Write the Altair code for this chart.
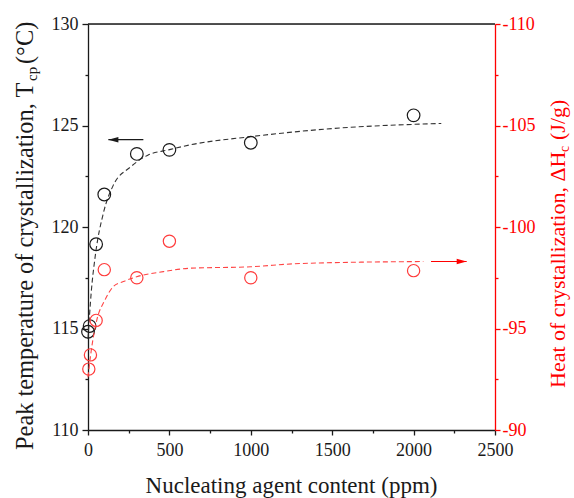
import altair as alt
import pandas as pd

# ---------------- data ----------------
t_content = [0, 10, 50, 100, 300, 500, 1000, 2000]
t_cp = [114.84, 115.12, 119.15, 121.6, 123.6, 123.8, 124.15, 125.5]

h_content = [5, 15, 50, 100, 300, 500, 1000, 2000]
h_c = [-93.0, -93.7, -95.4, -97.9, -97.5, -99.3, -97.5, -97.85]

t_fit_x = [0, 20, 45, 95, 155, 260, 370, 495, 630, 1000, 1500, 2170]
t_fit_y = [114.5, 116.8, 118.6, 120.7, 122.05, 122.95, 123.55, 123.8, 124.05, 124.45, 124.85, 125.1]

h_fit_x = [0, 17, 53, 104, 155, 217, 299, 463, 627, 1000, 1300, 2060]
h_fit_y = [-92.6, -93.74, -95.38, -96.4, -97.06, -97.31, -97.55, -97.8, -97.97, -98.04, -98.2, -98.3]

t_arrow_x = [340, 125]
t_arrow_y = [124.3]
h_arrow_x = [2107, 2326]
h_arrow_y = [-98.3]

x_ticks = [0, 250, 500, 750, 1000, 1250, 1500, 1750, 2000, 2250, 2500]
t_ticks = [110, 112.5, 115, 117.5, 120, 122.5, 125, 127.5, 130]
h_ticks = [-110, -107.5, -105, -102.5, -100, -97.5, -95, -92.5, -90]

x_title = "Nucleating agent content (ppm)"
t_title = ["Peak temperature of crystallization, T", "cp", "(°C)"]
h_title = ["Heat of crystallization, \u0394H", "c", "(J/g)"]

# ---------------- styling ----------------
W, H = 407, 406
FONT = "Liberation Serif"
BLACK = "#1a1a1a"
RED = "#ff0000"
RED_PT = "#ff3b3b"

pts = pd.DataFrame({"x": t_content, "T": t_cp})
hpts = pd.DataFrame({"x": h_content, "Hc": h_c})
tfit = pd.DataFrame({"x": t_fit_x, "T": t_fit_y})
hfit = pd.DataFrame({"x": h_fit_x, "Hc": h_fit_y})
tarr = pd.DataFrame({"x": [t_arrow_x[0]], "x2": [t_arrow_x[1]], "T": t_arrow_y})
harr = pd.DataFrame({"x": [h_arrow_x[0]], "x2": [h_arrow_x[1]], "Hc": h_arrow_y})
tarr_head = pd.DataFrame({"x": [t_arrow_x[1]], "T": t_arrow_y})
harr_head = pd.DataFrame({"x": [h_arrow_x[1]], "Hc": h_arrow_y})

major_test = lambda step: f"abs(datum.value % {step}) < 1e-9"

x_axis = alt.Axis(
    values=x_ticks,
    labelExpr=f"{major_test(500)} ? '' + datum.value : ''",
    tickSize={"condition": {"test": major_test(500), "value": 5}, "value": 3},
    title=None, grid=False, labelFlush=False, labelOverlap=False,
    labelFont=FONT, labelFontSize=18, labelColor=BLACK, labelPadding=6,
    domainColor=BLACK, tickColor=BLACK, domainWidth=1.3, tickWidth=1.3,
)
t_axis = alt.Axis(
    values=t_ticks, orient="left",
    labelExpr=f"{major_test(5)} ? '' + datum.value : ''",
    tickSize={"condition": {"test": major_test(5), "value": 6}, "value": 3},
    title=None, grid=False, labelOverlap=False,
    labelFont=FONT, labelFontSize=18, labelColor=BLACK, labelPadding=4,
    domainColor=BLACK, tickColor=BLACK, domainWidth=1.3, tickWidth=1.3,
)
h_axis = alt.Axis(
    values=h_ticks, orient="right",
    labelExpr=f"{major_test(5)} ? '' + datum.value : ''",
    tickSize={"condition": {"test": major_test(5), "value": 5}, "value": 3},
    title=None, grid=False, labelOverlap=False,
    labelFont=FONT, labelFontSize=18, labelColor=RED, labelPadding=2,
    domainColor=RED, tickColor=RED, domainWidth=1.3, tickWidth=1.3,
)

X = alt.X("x:Q", scale=alt.Scale(domain=[0, 2500], nice=False, zero=False), axis=x_axis)
TY = alt.Y("T:Q", scale=alt.Scale(domain=[110, 130], nice=False, zero=False), axis=t_axis)
HY = alt.Y("Hc:Q", scale=alt.Scale(domain=[-110, -90], nice=False, zero=False, reverse=True), axis=h_axis)

left_arrow_shape = "M-1,0L1,-0.55L1,0.55Z"
right_arrow_shape = "M1,0L-1,-0.55L-1,0.55Z"

black = alt.layer(
    alt.Chart(tfit).mark_line(color="#333333", strokeDash=[5, 3], strokeWidth=1.1,
                              interpolate="monotone").encode(x=X, y=TY),
    alt.Chart(pts).mark_point(filled=False, color=BLACK, size=160, strokeWidth=1.2,
                              opacity=1).encode(x=X, y=TY),
    alt.Chart(tarr).mark_rule(color=BLACK, strokeWidth=1.2).encode(x=X, x2="x2:Q", y=TY),
    alt.Chart(tarr_head).mark_point(shape=left_arrow_shape, filled=True, color=BLACK,
                                    size=100, xOffset=5, opacity=1, strokeWidth=0).encode(x=X, y=TY),
)

red = alt.layer(
    alt.Chart(hfit).mark_line(color="#ff4444", strokeDash=[5, 3], strokeWidth=1.1,
                              interpolate="monotone").encode(x=X, y=HY),
    alt.Chart(hpts).mark_point(filled=False, color=RED_PT, size=150, strokeWidth=1.2,
                               opacity=1).encode(x=X, y=HY),
    alt.Chart(harr).mark_rule(color=RED, strokeWidth=1.2).encode(x=X, x2="x2:Q", y=HY),
    alt.Chart(harr_head).mark_point(shape=right_arrow_shape, filled=True, color=RED,
                                    size=100, xOffset=-5, opacity=1, strokeWidth=0).encode(x=X, y=HY),
)


def label(text, x, y, size, color=BLACK, angle=0, align="left"):
    df = pd.DataFrame({"label": [text]})
    kw = dict(font=FONT, fontSize=size, color=color, align=align, baseline="alphabetic")
    if angle:
        kw["angle"] = angle
    return alt.Chart(df).mark_text(**kw).encode(
        text="label:N", x=alt.value(x), y=alt.value(y))


top_border = alt.Chart(pd.DataFrame({"a": [0]})).mark_rule(color=BLACK, strokeWidth=1.3).encode(
    x=alt.value(0), x2=alt.value(W), y=alt.value(0))

titles = alt.layer(
    top_border,
    label(x_title, W / 2, 469, 23, align="center"),
    label(t_title[0], -55, 426, 24.4, angle=270),
    label(t_title[1], -51, 57, 15, angle=270),
    label(t_title[2], -55, 40, 24.4, angle=270),
    label(h_title[0], 477, 364, 22, color=RED, angle=270),
    label(h_title[1], 481, 128, 14, color=RED, angle=270),
    label(h_title[2], 477, 116, 22, color=RED, angle=270),
)

chart = alt.layer(black, red, titles).resolve_scale(y="independent").properties(
    width=W, height=H,
    autosize=alt.AutoSizeParams(type="none"),
    padding={"left": 88, "top": 24, "right": 79, "bottom": 68},
    background="white",
).configure_view(stroke=None).configure_axis(
    labelFont=FONT, titleFont=FONT
).configure_text(font=FONT).configure(font=FONT)

chart.save("out.html", embed_options={"renderer": "svg", "actions": False})
